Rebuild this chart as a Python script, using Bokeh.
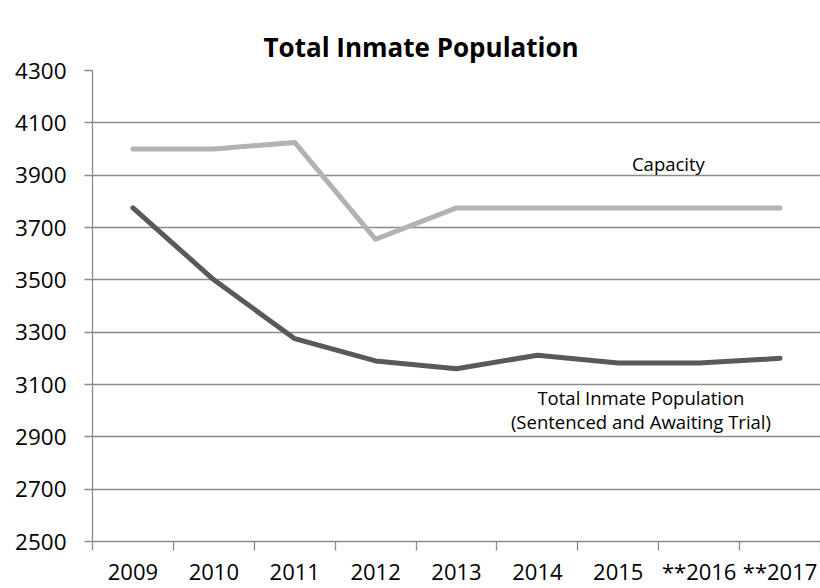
from bokeh.plotting import figure
from bokeh.models import Range1d, LinearAxis, FixedTicker, Label
from bokeh.embed import file_html
from bokeh.resources import INLINE

# ---- data ----
title = "Total Inmate Population"
years = ["2009", "2010", "2011", "2012", "2013", "2014", "2015", "**2016", "**2017"]
capacity = [4000, 4000, 4025, 3655, 3775, 3775, 3775, 3775, 3775]
population = [3775, 3500, 3275, 3190, 3160, 3212, 3182, 3182, 3200]
y_ticks = [2500, 2700, 2900, 3100, 3300, 3500, 3700, 3900, 4100, 4300]

GRID = "#8a8a8a"
FONT = "Open Sans"

n = len(years)
centers = [i + 0.5 for i in range(n)]       # category centres
bounds = [float(i) for i in range(n + 1)]   # category boundaries

p = figure(width=820, height=588,
           x_range=Range1d(0, n),
           y_range=Range1d(y_ticks[0], y_ticks[-1]),
           output_backend="svg", toolbar_location=None,
           x_axis_location=None, y_axis_location="left",
           min_border_left=92, min_border_right=0,
           min_border_top=70, min_border_bottom=46)
p.outline_line_color = None
p.background_fill_color = "white"
p.border_fill_color = "white"

# empty spacer between the title and the plotting area (no ticks, no labels)
spacer = LinearAxis(ticker=FixedTicker(ticks=[]))
spacer.axis_line_color = None
spacer.major_tick_line_color = None
spacer.minor_tick_line_color = None
spacer.major_tick_out = 25
spacer.major_tick_in = 0
spacer.minor_tick_out = 0
spacer.minor_tick_in = 0
spacer.major_label_standoff = 0
p.add_layout(spacer, "above")

# title
p.title.text = title
p.title.align = "left"
p.title.offset = 171
p.title.vertical_align = "top"
p.title.standoff = 7
p.title.text_font = FONT
p.title.text_font_style = "bold"
p.title.text_font_size = "26px"
p.title.text_color = "black"

# y axis
p.yaxis.ticker = FixedTicker(ticks=y_ticks)
p.yaxis.axis_line_color = GRID
p.yaxis.axis_line_width = 1.3
p.yaxis.major_tick_line_color = GRID
p.yaxis.major_tick_line_width = 1.3
p.yaxis.major_tick_out = 8
p.yaxis.major_tick_in = 0
p.yaxis.minor_tick_line_color = None
p.yaxis.major_label_text_font = FONT
p.yaxis.major_label_text_font_size = "22.5px"
p.yaxis.major_label_text_color = "black"
p.yaxis.major_label_standoff = 18

p.ygrid.grid_line_color = GRID
p.ygrid.grid_line_width = 1.3
p.xgrid.visible = False

# x axis: labels at category centres, tick marks at category boundaries
x_axis = LinearAxis(ticker=FixedTicker(ticks=centers, minor_ticks=bounds),
                    major_label_overrides={c: y for c, y in zip(centers, years)})
x_axis.axis_line_color = GRID
x_axis.axis_line_width = 1.3
x_axis.major_tick_line_color = None
x_axis.major_tick_out = 0
x_axis.major_tick_in = 0
x_axis.minor_tick_line_color = GRID
x_axis.minor_tick_line_width = 1.3
x_axis.minor_tick_out = 9
x_axis.minor_tick_in = 0
x_axis.major_label_text_font = FONT
x_axis.major_label_text_font_size = "22px"
x_axis.major_label_text_color = "black"
x_axis.major_label_standoff = 5
p.add_layout(x_axis, "below")

# lines
p.line(centers, capacity, line_color="#b2b2b2", line_width=5,
       line_cap="round", line_join="round")
p.line(centers, population, line_color="#595959", line_width=5,
       line_cap="round", line_join="round")

# annotations
for x, y, t in [(7.12, 3946, "Capacity"),
                (6.78, 3052, "Total Inmate Population"),
                (6.78, 2957, "(Sentenced and Awaiting Trial)")]:
    p.add_layout(Label(x=x, y=y, text=t, text_align="center", text_baseline="middle",
                       text_font=FONT, text_font_size="18.5px", text_color="black"))

open("out.html", "w").write(file_html(p, INLINE))
